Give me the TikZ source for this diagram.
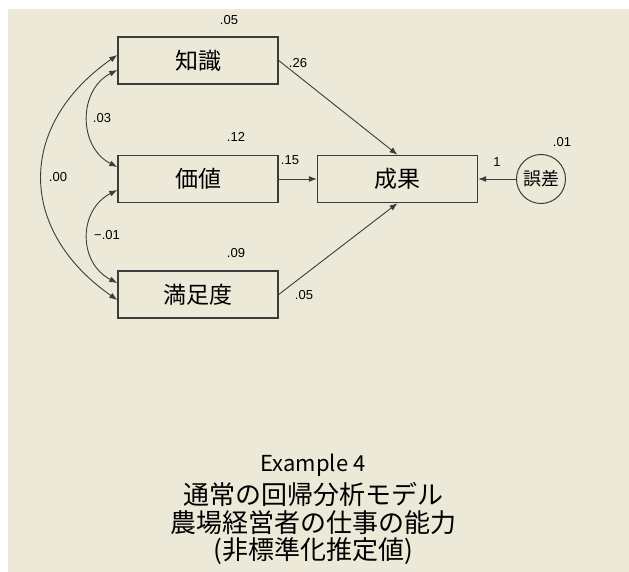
\documentclass[tikz,border=0pt]{standalone}
\usepackage{fontspec}
\setmainfont{Liberation Sans}
\newfontfamily\jpfont{Noto Sans CJK JP}
\usetikzlibrary{arrows.meta}
\definecolor{panel}{HTML}{ECE9D8}
\definecolor{edge}{HTML}{3C3C3C}

\begin{document}
\begin{tikzpicture}[x=1pt, y=-1pt, >={Latex[length=8pt,width=6pt]}, line width=0.9pt,
    var/.style={draw=edge, line width=1.4pt, rectangle, minimum width=160pt, minimum height=47pt, inner sep=0pt, font=\jpfont\fontsize{23}{25}\selectfont},
    num/.style={inner sep=0pt, font=\fontsize{13}{15}\selectfont}]
    \useasboundingbox (0,0) rectangle (629,572);
    % Background panel
    \fill[panel] (8,9) rectangle (629,572);

    % Observed variables
    \node[var] (chishiki) at (198,60.5) {知識};
    \node[var] (kachi) at (198,179) {価値};
    \node[var] (manzoku) at (198,294.5) {満足度};
    \node[var] (seika) at (397.5,179) {成果};

    % Error term
    \node[draw=edge, line width=1pt, circle, minimum size=49pt, inner sep=0pt, font=\jpfont\fontsize{18}{20}\selectfont] (gosa) at (541,179) {誤差};

    % Paths to outcome
    \draw[->, edge] (chishiki.east) -- (seika.north);
    \draw[->, edge] (kachi.east) -- (seika.west);
    \draw[->, edge] (manzoku.east) -- (seika.south);
    \draw[->, edge] (gosa.west) -- (seika.east);

    % Covariances
    \draw[<->, edge] ([yshift=5.5pt]chishiki.west) .. controls (17,125) and (17,230) .. ([yshift=-5.5pt]manzoku.west);
    \draw[<->, edge] ([yshift=-9.5pt]chishiki.west) .. controls (78,90) and (78,147) .. ([yshift=12pt]kachi.west);
    \draw[<->, edge] ([yshift=-11pt]kachi.west) .. controls (78,210) and (78,263) .. ([yshift=11.5pt]manzoku.west);

    % Covariance estimates
    \node[num] (cov1) at (102,118) {.03};
    \node[num] (cov2) at (58,177) {.00};
    \node[num] (cov3) at (107,235) {−.01};

    % Path estimates
    \node[num] (b1) at (298,63) {.26};
    \node[num] (b2) at (290,160) {.15};
    \node[num] (b3) at (304,295) {.05};
    \node[num] (b4) at (497,162) {1};

    % Variance estimates
    \node[num] (v1) at (229,20) {.05};
    \node[num] (v2) at (236,137) {.12};
    \node[num] (v3) at (236,253) {.09};
    \node[num] (v4) at (562,142) {.01};

    % Title
    \node[font=\jpfont\fontsize{22}{24}\selectfont] (title1) at (313,465) {Example 4};
    \node[font=\jpfont\fontsize{26}{28}\selectfont] (title2) at (313,495) {通常の回帰分析モデル};
    \node[font=\jpfont\fontsize{26}{28}\selectfont] (title3) at (313,523) {農場経営者の仕事の能力};
    \node[font=\jpfont\fontsize{26}{28}\selectfont] (title4) at (313,551) {(非標準化推定値)};
\end{tikzpicture}
\end{document}
